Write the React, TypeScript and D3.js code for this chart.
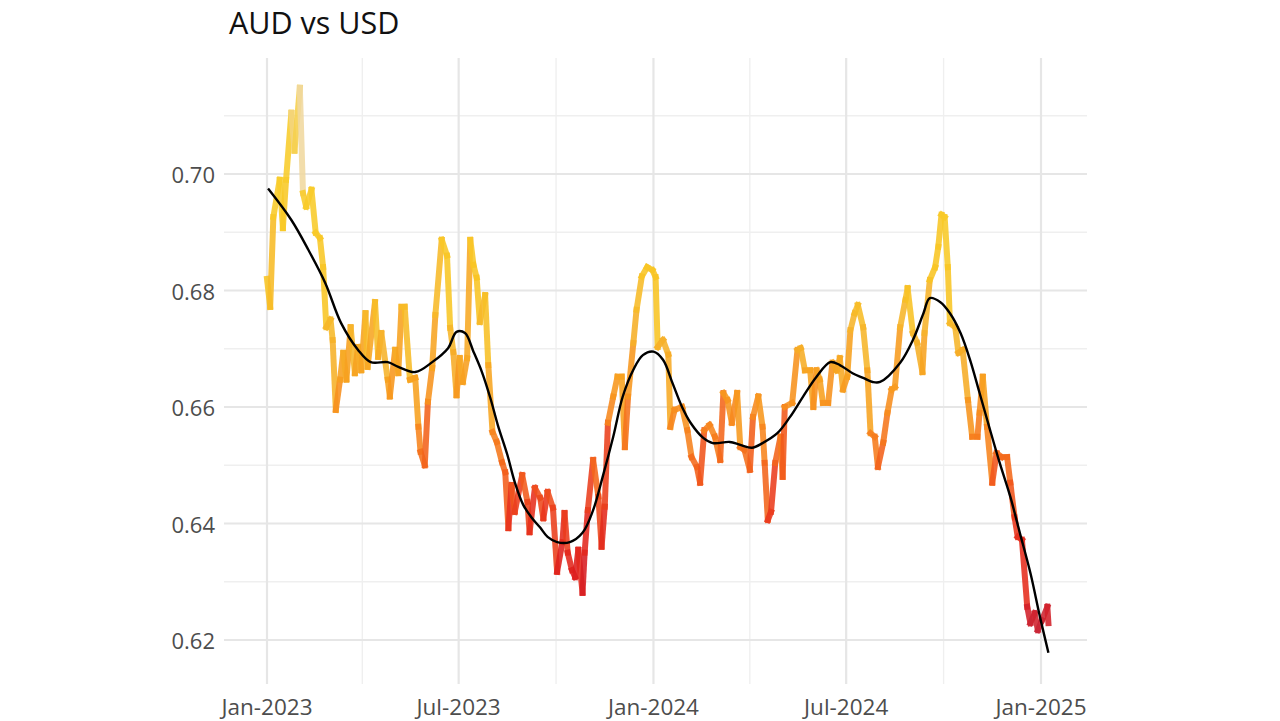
import React from "react";
import * as d3 from "d3";

const START = new Date(2023, 0, 1);

// day offsets from 2023-01-01 and AUD/USD values
const dayOffsets = [
  0, 3, 6, 12, 15, 18, 23, 26, 31, 34, 37, 42, 46, 50, 53, 56, 60, 62, 65, 69,
  72, 75, 79, 83, 86, 89, 93, 95, 102, 105, 108, 114, 116, 121, 124, 127, 130, 135, 140, 143,
  145, 149, 152, 156, 159, 165, 170, 173, 176, 179, 182, 185, 189, 192, 195, 198, 201, 206, 209, 213,
  217, 222, 225, 228, 231, 234, 241, 246, 248, 253, 258, 261, 265, 270, 274, 279, 281, 284, 288, 291,
  294, 298, 300, 303, 308, 313, 316, 319, 322, 327, 331, 335, 338, 341, 346, 349, 354, 359, 364, 367,
  369, 374, 379, 381, 385, 392, 397, 401, 406, 409, 413, 418, 423, 428, 431, 435, 439, 444, 447, 451,
  456, 459, 464, 468, 470, 473, 476, 480, 485, 487, 489, 496, 501, 504, 508, 513, 516, 519, 522, 525,
  530, 534, 538, 541, 544, 548, 551, 555, 558, 563, 567, 570, 574, 577, 582, 586, 590, 593, 598, 603,
  605, 610, 614, 619, 621, 626, 631, 634, 637, 640, 643, 645, 650, 653, 657, 662, 666, 671, 673, 676,
  680, 685, 689, 694, 699, 702, 706, 709, 713, 718, 721, 725, 728, 732, 737, 738,
];

const rates = [
  0.682, 0.6772, 0.6926, 0.699, 0.6907, 0.699, 0.7105, 0.704, 0.7148, 0.6967, 0.6944, 0.6973, 0.6899, 0.689, 0.684, 0.6737, 0.675, 0.6715, 0.6595, 0.6647,
  0.6693, 0.6647, 0.6737, 0.6658, 0.6703, 0.6663, 0.6761, 0.6669, 0.678, 0.6686, 0.6727, 0.6647, 0.6618, 0.6698, 0.6658, 0.6772, 0.6772, 0.6647, 0.665, 0.6566,
  0.6523, 0.65, 0.6609, 0.6667, 0.6758, 0.6887, 0.686, 0.6736, 0.6694, 0.662, 0.6684, 0.6643, 0.6684, 0.6887, 0.6844, 0.6822, 0.6746, 0.6792, 0.6672, 0.6557,
  0.654, 0.6505, 0.6488, 0.6392, 0.6466, 0.642, 0.6483, 0.6437, 0.6385, 0.6461, 0.6444, 0.6409, 0.6454, 0.6427, 0.6317, 0.6368, 0.6418, 0.635, 0.632, 0.6308,
  0.6355, 0.6281, 0.635, 0.6423, 0.6509, 0.6446, 0.636, 0.6429, 0.6573, 0.6618, 0.6652, 0.6652, 0.6531, 0.6618, 0.671, 0.6767, 0.6824, 0.684, 0.6835, 0.6823,
  0.6703, 0.6715, 0.669, 0.6566, 0.6595, 0.66, 0.656, 0.6514, 0.6497, 0.647, 0.656, 0.6569, 0.6549, 0.6509, 0.6624, 0.6612, 0.6573, 0.6624, 0.6531, 0.6526,
  0.6492, 0.6583, 0.6618, 0.6566, 0.6504, 0.6406, 0.642, 0.6504, 0.6549, 0.648, 0.66, 0.6607, 0.6698, 0.6701, 0.6663, 0.6663, 0.66, 0.6663, 0.6647, 0.6607,
  0.6607, 0.6676, 0.6663, 0.6684, 0.663, 0.6652, 0.6732, 0.6761, 0.6775, 0.6737, 0.6663, 0.6555, 0.6549, 0.6497, 0.6539, 0.659, 0.663, 0.6634, 0.6737, 0.6784,
  0.6804, 0.6727, 0.671, 0.666, 0.6727, 0.6818, 0.684, 0.6875, 0.693, 0.6926, 0.684, 0.6744, 0.6737, 0.6693, 0.6698, 0.6612, 0.6549, 0.6549, 0.659, 0.6652,
  0.6566, 0.647, 0.6521, 0.6514, 0.6514, 0.647, 0.6411, 0.6377, 0.6372, 0.6257, 0.6229, 0.6246, 0.6217, 0.6234, 0.6257, 0.6229,
];

// smoothed trend (black line)
const smoothDays = [
  1, 23, 39, 55, 70, 86, 98, 114, 124, 140, 156, 171, 179, 187, 195, 203, 211, 218, 227, 234,
  242, 250, 258, 265, 274, 286, 298, 308, 317, 327, 336, 346, 355, 365, 374, 383, 392, 400, 412, 421,
  437, 447, 458, 468, 482, 494, 506, 519, 532, 541, 553, 563, 572, 579, 598, 610, 620, 626, 636, 645,
  655, 664, 673, 683, 692, 702, 711, 721, 730, 738,
];
const smoothValues = [
  0.6975, 0.6921, 0.687, 0.6813, 0.6744, 0.6698, 0.6677, 0.6677, 0.6669, 0.666, 0.6677, 0.6701, 0.6729, 0.6727, 0.6695, 0.666, 0.6615, 0.6569, 0.6518, 0.6471,
  0.6432, 0.641, 0.6393, 0.6377, 0.6368, 0.6368, 0.6384, 0.6423, 0.648, 0.6549, 0.6618, 0.6664, 0.6689, 0.6695, 0.6681, 0.6641, 0.66, 0.6573, 0.6547, 0.6538,
  0.654, 0.6535, 0.653, 0.6538, 0.6555, 0.6583, 0.6617, 0.6652, 0.6677, 0.6672, 0.6658, 0.665, 0.6643, 0.6643, 0.6676, 0.6715, 0.6761, 0.6787, 0.678, 0.6761,
  0.6727, 0.6681, 0.6624, 0.656, 0.6504, 0.6446, 0.6384, 0.6315, 0.624, 0.6178,
];

const yTicks = [0.62, 0.64, 0.66, 0.68, 0.7];
const yMinorTicks = [0.63, 0.65, 0.67, 0.69, 0.71];
const xTickLabels = ["Jan-2023", "Jul-2023", "Jan-2024", "Jul-2024", "Jan-2025"];
const xTickDates = ["2023-01-01", "2023-07-01", "2024-01-01", "2024-07-01", "2025-01-01"];
const xMinorDates = ["2023-04-01", "2023-10-01", "2024-04-01", "2024-10-01"];

const colorStops = [0.62, 0.63, 0.64, 0.65, 0.657, 0.665, 0.673, 0.682, 0.7, 0.71, 0.716];
const colorRange = [
  "#c4263a", "#dc1c1c", "#e8321c", "#f3621a", "#f7861c", "#f7a01e",
  "#f6b42a", "#f8c422", "#f8cc2a", "#f3d47a", "#efd9a8",
];

const W = 1280;
const H = 721;
const panel = { left: 224, right: 1087, top: 58, bottom: 684 };

const parse = d3.timeParse("%Y-%m-%d");

export default function App() {
  const dates = dayOffsets.map((d) => d3.timeDay.offset(START, d));
  const sDates = smoothDays.map((d) => d3.timeDay.offset(START, d));

  // Jan 1 2023 at x=267, Jan 1 2025 at x=1041
  const x = d3
    .scaleTime()
    .domain([parse("2023-01-01")!, parse("2025-01-01")!])
    .range([267, 1041]);
  const y = d3.scaleLinear().domain([0.62, 0.7]).range([640, 174]);
  const color = d3.scaleLinear<string>().domain(colorStops).range(colorRange).clamp(true);

  const smoothLine = d3
    .line<[Date, number]>()
    .x((d) => x(d[0]))
    .y((d) => y(d[1]))
    .curve(d3.curveCatmullRom.alpha(0.5));

  const smoothPts: [Date, number][] = sDates.map((d, i) => [d, smoothValues[i]]);

  const segs = [];
  for (let i = 0; i < rates.length - 1; i++) {
    segs.push(
      <line
        key={i}
        x1={x(dates[i])}
        y1={y(rates[i])}
        x2={x(dates[i + 1])}
        y2={y(rates[i + 1])}
        stroke={color(rates[i])}
        strokeOpacity={0.88}
        strokeWidth={6}
        strokeLinecap="square"
      />
    );
  }

  const font = "'Open Sans', 'DejaVu Sans', sans-serif";

  return (
    <svg
      width={W}
      height={H}
      style={{ position: "absolute", left: 0, top: 0, background: "#fff" }}
    >
      <rect x={0} y={0} width={W} height={H} fill="#fff" />
      {/* minor grid */}
      {yMinorTicks.map((t) => (
        <line key={"ym" + t} x1={panel.left} x2={panel.right} y1={y(t)} y2={y(t)} stroke="#efefef" strokeWidth={1.4} />
      ))}
      {xMinorDates.map((t) => (
        <line key={"xm" + t} x1={x(parse(t)!)} x2={x(parse(t)!)} y1={panel.top} y2={panel.bottom} stroke="#efefef" strokeWidth={1.4} />
      ))}
      {/* major grid */}
      {yTicks.map((t) => (
        <line key={"y" + t} x1={panel.left} x2={panel.right} y1={y(t)} y2={y(t)} stroke="#e6e6e6" strokeWidth={2.2} />
      ))}
      {xTickDates.map((t) => (
        <line key={"x" + t} x1={x(parse(t)!)} x2={x(parse(t)!)} y1={panel.top} y2={panel.bottom} stroke="#e6e6e6" strokeWidth={2.2} />
      ))}

      <g>{segs}</g>

      <path d={smoothLine(smoothPts) || ""} fill="none" stroke="#000" strokeWidth={2.4} />

      {yTicks.map((t) => (
        <text
          key={"yl" + t}
          x={215}
          y={y(t)}
          textAnchor="end"
          dominantBaseline="central"
          fontFamily={font}
          fontSize={22}
          fill="#4d4d4d"
        >
          {t.toFixed(2)}
        </text>
      ))}
      {xTickDates.map((t, i) => (
        <text
          key={"xl" + t}
          x={x(parse(t)!)}
          y={706}
          textAnchor="middle"
          dominantBaseline="central"
          fontFamily={font}
          fontSize={22.5}
          fill="#4d4d4d"
        >
          {xTickLabels[i]}
        </text>
      ))}
      <text x={229} y={34} fontFamily={font} fontSize={30.5} fill="#111">
        AUD vs USD
      </text>
    </svg>
  );
}
